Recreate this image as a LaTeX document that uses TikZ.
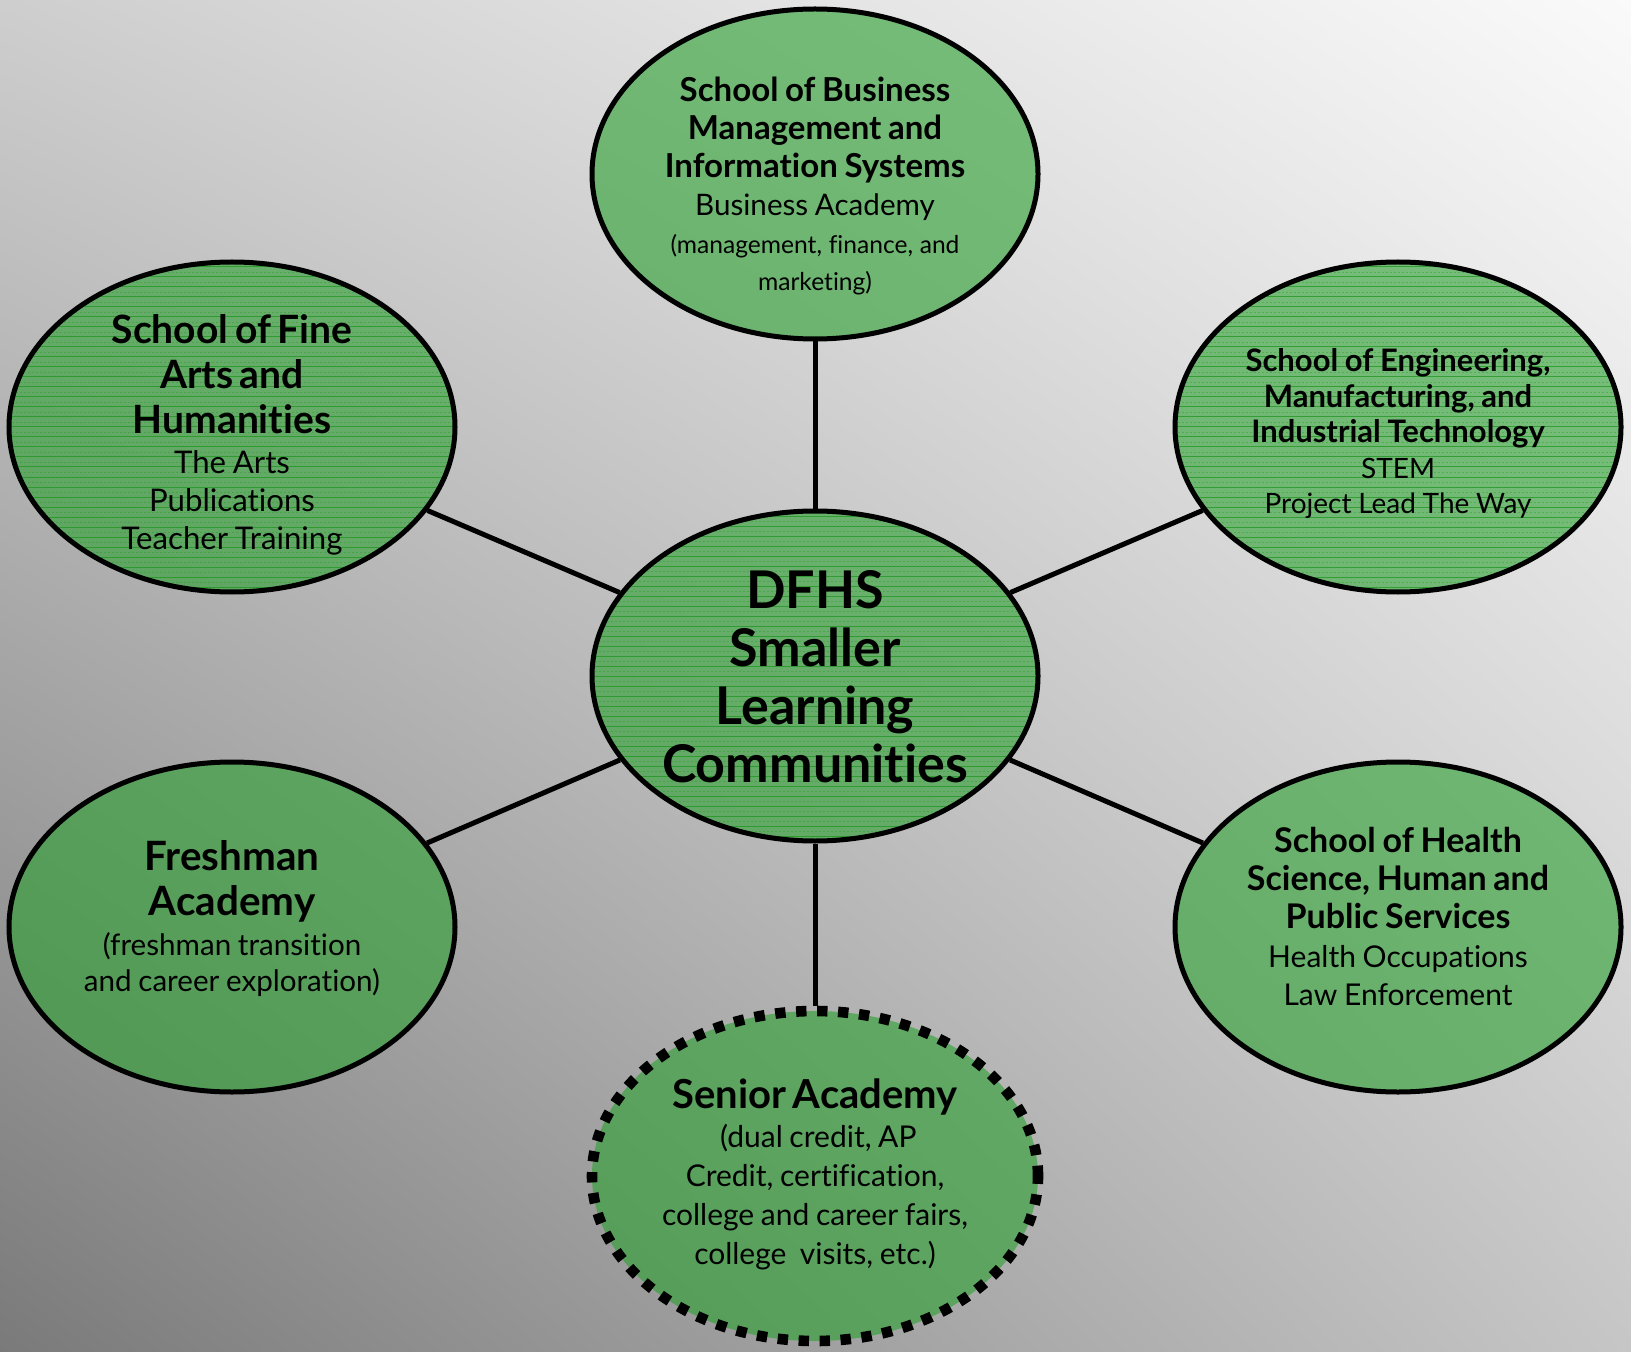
\documentclass[tikz,border=0pt]{standalone}
\usepackage{fontspec}
\setmainfont{Lato}[Ligatures={NoCommon}]
\usetikzlibrary{shapes.geometric,shadings}
\definecolor{blobgreen}{RGB}{40,160,45}
\definecolor{stripegreen}{RGB}{30,150,30}
\definecolor{bgTL}{RGB}{206,206,206}
\definecolor{bgTR}{RGB}{250,250,250}
\definecolor{bgBL}{RGB}{122,122,122}
\definecolor{bgBR}{RGB}{198,198,198}
\newcommand{\bl}[2]{\fontsize{#1}{#2}\selectfont\bfseries}
\newcommand{\rl}[2]{\fontsize{#1}{#2}\selectfont\mdseries}
\begin{document}
\begin{tikzpicture}[x=0.5pt,y=-0.5pt,
  blob/.style={ellipse, draw=black, line width=2.5pt, fill=blobgreen, fill opacity=0.6,
    minimum width=223pt, minimum height=165pt, inner sep=0pt},
  striped/.style={path picture={
    \foreach \k in {-17,...,17}{
      \draw[stripegreen, line width=0.5pt, draw opacity=0.75]
        ([shift={(-120pt,\k*5pt)}]path picture bounding box.center) -- ++(240pt,0pt);
      \draw[stripegreen, line width=0.4pt, draw opacity=0.35, dash pattern=on 1pt off 1pt]
        ([shift={(-120pt,\k*5pt+2.5pt)}]path picture bounding box.center) -- ++(240pt,0pt);
    }}},
  dotted blob/.style={blob, line width=5.3pt, dash pattern=on 5.2pt off 5.3pt},
  txt/.style={align=center, text width=210pt, inner sep=0pt, text=black, anchor=base},
  link/.style={line width=2.5pt, draw=black}
]
\useasboundingbox (0,0) rectangle (1631,1352);
\shade[upper left=bgTL, upper right=bgTR, lower left=bgBL, lower right=bgBR] (0,0) rectangle (1631,1352);

\node[blob] (T) at (815,174) {};
\node[blob, striped] (FA) at (232,427) {};
\node[blob, striped] (E) at (1398,427) {};
\node[blob, striped] (C) at (815,676) {};
\node[blob] (F) at (232,927) {};
\node[blob] (H) at (1398,927) {};
\node[dotted blob] (S) at (815,1176) {};

\draw[link] (C) -- (T);
\draw[link] (C) -- (FA);
\draw[link] (C) -- (E);
\draw[link] (C) -- (F);
\draw[link] (C) -- (H);
\draw[link] (C) -- (S);

\node[txt] (Tt) at (815,102) {\bl{16.5}{19}School of Business\\
  \bl{16.5}{19}Management and\\
  \bl{16.5}{19}Information Systems\\
  \rl{14.8}{19}Business Academy\\
  \rl{12.3}{19}(management, finance, and\\
  \rl{12.3}{18.5}marketing)\par};

\node[txt] (FAt) at (232,344) {\bl{19.5}{22.4}School of Fine\\
  \bl{19.5}{22.4}Arts and\\
  \bl{19.5}{22.4}Humanities\\
  \rl{15.6}{19.8}The Arts\\
  \rl{15.6}{19.2}Publications\\
  \rl{15.6}{19.2}Teacher Training\par};

\node[txt] (Et) at (1398,372) {\bl{15.5}{17.7}School of Engineering,\\
  \bl{15.5}{17.7}Manufacturing, and\\
  \bl{15.5}{17.7}Industrial Technology\\
  \rl{14}{17.7}STEM\\
  \rl{14}{17.7}Project Lead The Way\par};

\node[txt] (Ct) at (815,608) {\bl{26}{29}DFHS\\
  \bl{26}{29}Smaller\\
  \bl{26}{29}Learning\\
  \bl{26}{29}Communities\par};

\node[txt] (Ft) at (232,870) {\bl{20.2}{22.9}Freshman\\
  \bl{20.2}{22.9}Academy\\
  \rl{14.8}{19.8}(freshman transition\\
  \rl{14.8}{18.2}and career exploration)\par};

\node[txt] (Ht) at (1398,852) {\bl{17}{19.2}School of Health\\
  \bl{17}{19.2}Science, Human and\\
  \bl{17}{19.2}Public Services\\
  \rl{15}{19.2}Health Occupations\\
  \rl{15}{19.2}Law Enforcement\par};

\node[txt] (St) at (815,1108) {\bl{20}{19.5}Senior Academy\\
  \rl{15}{19.5}\ (dual credit, AP\\
  \rl{15}{19.5}Credit, certification,\\
  \rl{15}{19.5}college and career fairs,\\
  \rl{15}{19.5}college\ \ visits, etc.)\par};
\end{tikzpicture}
\end{document}
